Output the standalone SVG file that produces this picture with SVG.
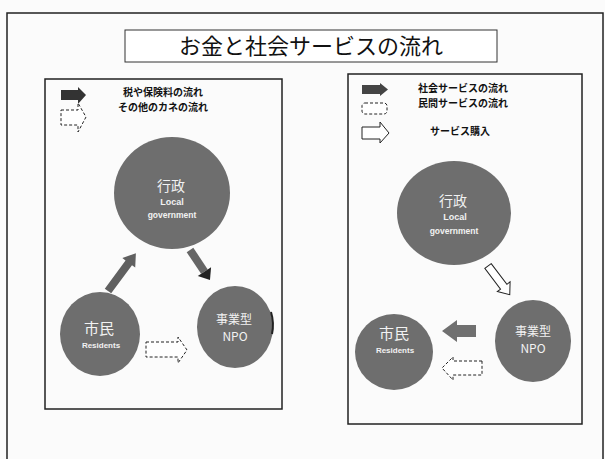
<svg xmlns="http://www.w3.org/2000/svg" width="605" height="459" viewBox="0 0 605 459">
<style>
.frame{fill:none;stroke:#222;stroke-width:1.5}
.node{fill:#6e6e6e}
.jp{font-family:"Noto Sans CJK JP","Noto Sans",sans-serif}
.leg{font-family:"Noto Sans CJK JP",sans-serif;font-size:10px;font-weight:bold;fill:#111}
.nt{fill:#f2f2f2;text-anchor:middle}
.en{font-family:"Liberation Sans",Arial,sans-serif;font-weight:bold;fill:#f2f2f2;text-anchor:middle}
.dash{fill:#fff;stroke:#222;stroke-width:1;stroke-dasharray:3 2}
.hollow{fill:#fff;stroke:#222;stroke-width:1}
</style>
<rect x="0" y="0" width="605" height="459" fill="#fbfbfb"/>
<rect class="frame" x="7" y="13" width="596" height="460"/>
<g id="title">
<rect x="125" y="30" width="372" height="32" fill="#fff" stroke="#333" stroke-width="1"/>
<text class="jp" x="311" y="54" font-size="22" text-anchor="middle" fill="#111">お金と社会サービスの流れ</text>
</g>
<g id="left-panel">
<rect class="frame" x="45" y="79" width="237" height="330" fill="#fff"/>
<g id="left-legend">
<path d="M61,90 L78,90 L78,87 L86,95 L78,104 L78,100 L61,100 Z" fill="#333"/>
<path class="dash" d="M61,110 L78,110 L78,103 L86,117 L78,132 L78,125 L61,125 Z"/>
<text class="leg" x="163" y="96" text-anchor="middle">税や保険料の流れ</text>
<text class="leg" x="163" y="111" text-anchor="middle">その他のカネの流れ</text>
</g>
<g id="left-gov">
<ellipse class="node" cx="172" cy="193" rx="58" ry="56"/>
<text class="jp nt" x="171" y="191" font-size="14">行政</text>
<text class="en" x="172" y="205" font-size="9">Local</text>
<text class="en" x="172" y="218" font-size="8.5">government</text>
</g>
<g id="left-citizen">
<ellipse class="node" cx="100" cy="334" rx="40" ry="42"/>
<text class="jp nt" x="99" y="334" font-size="15">市民</text>
<text class="en" x="101" y="348" font-size="8" font-weight="normal">Residents</text>
</g>
<g id="left-npo">
<ellipse class="node" cx="235" cy="327" rx="38" ry="41"/>
<path d="M271,312 A38,41 0 0 1 272,334" fill="none" stroke="#222" stroke-width="2"/>
<text class="jp nt" x="234" y="324" font-size="12">事業型</text>
<text class="jp nt" x="235" y="341" font-size="12">NPO</text>
</g>
</g>
<g id="right-panel">
<rect class="frame" x="348" y="74" width="234" height="350" fill="#fff"/>
<g id="right-legend">
<path d="M362,85 L380,85 L380,83 L388,89.5 L380,96 L380,94 L362,94 Z" fill="#444"/>
<rect class="dash" x="362" y="103" width="25" height="11" rx="3"/>
<path class="hollow" d="M362,127 L380,127 L380,122 L389,133 L380,143 L380,139 L362,139 Z"/>
<text class="leg" x="418" y="92">社会サービスの流れ</text>
<text class="leg" x="418" y="107">民間サービスの流れ</text>
<text class="leg" x="430" y="135">サービス購入</text>
</g>
<g id="right-gov">
<ellipse class="node" cx="454" cy="213" rx="57" ry="52"/>
<text class="jp nt" x="453" y="206" font-size="14">行政</text>
<text class="en" x="455" y="220" font-size="9">Local</text>
<text class="en" x="454" y="234" font-size="8.5">government</text>
</g>
<g id="right-citizen">
<ellipse class="node" cx="394" cy="352" rx="39" ry="38"/>
<text class="jp nt" x="394" y="339" font-size="15">市民</text>
<text class="en" x="395" y="353" font-size="8" font-weight="normal">Residents</text>
</g>
<g id="right-npo">
<ellipse class="node" cx="533" cy="341" rx="38" ry="41"/>
<text class="jp nt" x="533" y="336" font-size="12">事業型</text>
<text class="jp nt" x="533" y="353" font-size="12">NPO</text>
</g>
</g>
<g id="connectors">
<path d="M0,-4 L35,-4 L35,-8 L47,0 L35,8 L35,4 L0,4 Z" fill="#606060" transform="translate(108,291) rotate(-53.6)"/>
<g transform="translate(190,250) rotate(56.3)">
<path d="M0,-4 L26,-4 L26,4 L0,4 Z" fill="#666"/>
<path d="M26,-8 L36,0 L26,8 Z" fill="#222"/>
</g>
<path class="dash" d="M146,342 L178,342 L178,337 L187,350 L178,363 L178,357 L146,357 Z"/>
<path class="hollow" d="M0,-4 L26,-4 L26,-8 L36,0 L26,8 L26,4 L0,4 Z" transform="translate(488,266) rotate(52.8)"/>
<path d="M476,325 L457,325 L457,320 L442,331 L457,342 L457,337 L476,337 Z" fill="#707070"/>
<path class="dash" d="M482,361 L453,361 L453,357 L442,368 L453,380 L453,375 L482,375 Z"/>
</g>
</svg>
